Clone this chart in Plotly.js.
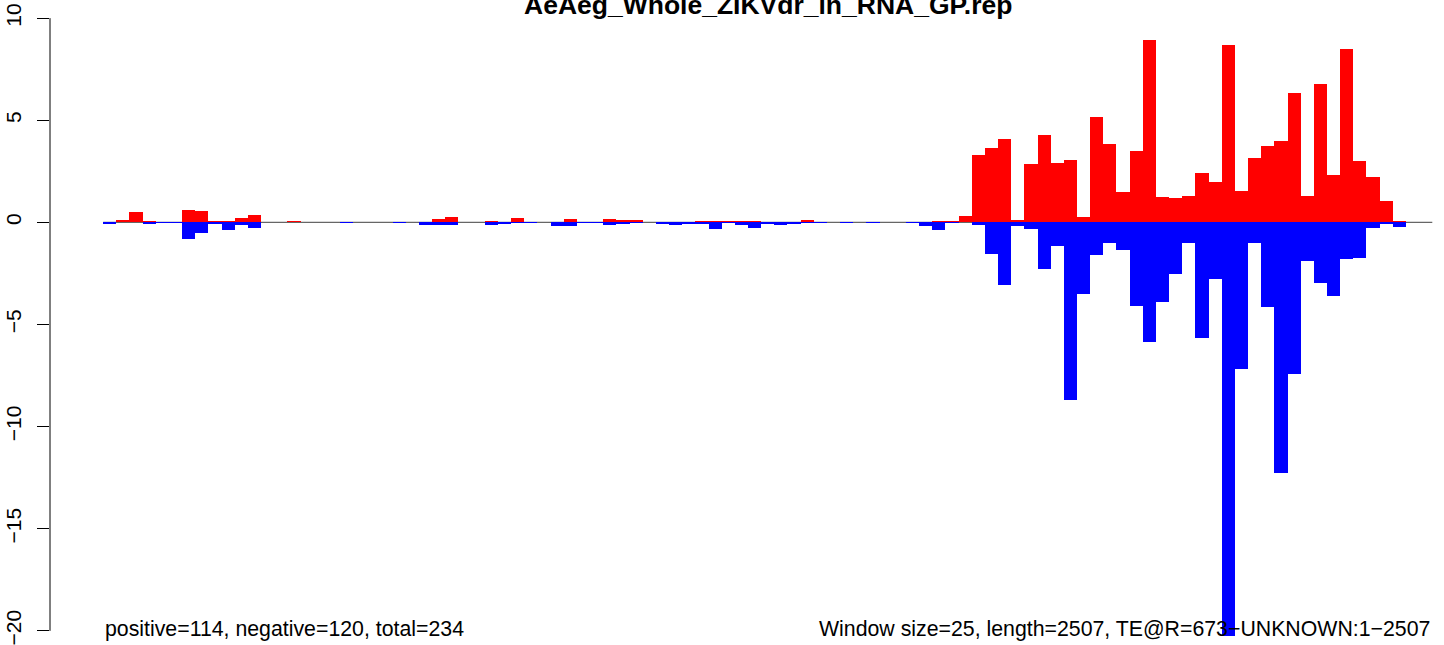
<!DOCTYPE html>
<html>
<head>
<meta charset="utf-8">
<script src="https://cdn.plot.ly/plotly-3.0.1.min.js"></script>
<style>html,body{margin:0;padding:0;background:#fff;}#chart{width:1444px;height:645px;}</style>
</head>
<body>
<div id="chart"></div>
<script>
// Window index (0..100), window size 25 over length 2507
const windowIndex = Array.from({length: 101}, (_, i) => i + 0.5);

const positiveValues = [
  0, 0.13, 0.52, 0.08, 0, 0, 0.60, 0.55, 0.08, 0.08,
  0.21, 0.36, 0.03, 0.03, 0.08, 0, 0.03, 0, 0, 0.03,
  0, 0, 0, 0, 0, 0.16, 0.26, 0, 0.03, 0.07,
  0, 0.21, 0, 0, 0, 0.16, 0, 0, 0.16, 0.11,
  0.11, 0.03, 0, 0, 0, 0.07, 0.07, 0.07, 0.07, 0.07,
  0, 0, 0, 0.11, 0, 0, 0, 0.03, 0, 0,
  0, 0, 0, 0.08, 0.08, 0.31, 3.30, 3.64, 4.08, 0.13,
  2.85, 4.27, 2.90, 3.05, 0.26, 5.15, 3.83, 1.50, 3.49, 8.92,
  1.24, 1.19, 1.29, 2.41, 1.97, 8.68, 1.53, 3.15, 3.74, 3.98,
  6.33, 1.29, 6.77, 2.32, 8.48, 3.00, 2.22, 1.04, 0.07, 0,
  0
];

const negativeValues = [
  -0.08, 0, 0, -0.08, -0.03, -0.03, -0.80, -0.52, -0.08, -0.36,
  -0.13, -0.28, 0, 0, 0, 0, 0, 0, -0.03, 0,
  0, 0, -0.03, 0, -0.13, -0.13, -0.13, 0, 0, -0.13,
  -0.07, -0.03, -0.03, 0, -0.18, -0.18, -0.03, -0.03, -0.13, -0.07,
  -0.03, 0, -0.07, -0.13, -0.07, -0.07, -0.33, -0.03, -0.13, -0.28,
  -0.07, -0.13, -0.07, -0.03, -0.03, 0, -0.03, 0, -0.03, 0,
  0, -0.03, -0.16, -0.36, -0.03, 0, -0.11, -1.55, -3.05, -0.18,
  -0.33, -2.28, -1.16, -8.70, -3.51, -1.60, -1.01, -1.35, -4.09, -5.86,
  -3.90, -2.53, -1.01, -5.64, -2.77, -20.23, -7.18, -1.01, -4.14, -12.27,
  -7.42, -1.89, -2.97, -3.61, -1.79, -1.75, -0.28, -0.10, -0.23, 0,
  0
];

const yTickValues = [-20, -15, -10, -5, 0, 5, 10];
const yTickLabels = ['\u221220', '\u221215', '\u221210', '\u22125', '0', '5', '10'];

const chartTitle = 'AeAeg_Whole_ZIKVdr_in_RNA_GP.rep';
const leftNote = 'positive=114, negative=120, total=234';
const rightNote = 'Window size=25, length=2507, TE@R=673\u2212UNKNOWN:1\u22122507';

const FONT = 'Liberation Sans, Arial, Helvetica, sans-serif';

const traces = [
  {type: 'bar', x: windowIndex, y: positiveValues, width: 1,
   marker: {color: '#FF0000', line: {width: 0}}, hoverinfo: 'y', showlegend: false},
  {type: 'bar', x: windowIndex, y: negativeValues, width: 1,
   marker: {color: '#0000FF', line: {width: 0}}, hoverinfo: 'y', showlegend: false}
];

const layout = {
  width: 1444, height: 645,
  margin: {l: 50, r: 0, t: 12, b: 7.7, pad: 0},
  paper_bgcolor: '#ffffff', plot_bgcolor: '#ffffff',
  barmode: 'relative', bargap: 0,
  showlegend: false,
  font: {family: FONT, color: '#000000', size: 21},
  xaxis: {range: [-4.04, 101.89], visible: false, fixedrange: true},
  yaxis: {
    range: [-20.3, 10.3],
    tickmode: 'array', tickvals: yTickValues, ticktext: yTickLabels,
    tickangle: -90, ticks: 'outside', ticklen: 12, tickwidth: 1, tickcolor: '#000000',
    ticklabelstandoff: 8, ticklabeloverflow: 'allow',
    tickfont: {family: FONT, size: 21, color: '#000000'},
    showline: false, showgrid: false, zeroline: false, fixedrange: true
  },
  shapes: [
    {type: 'line', xref: 'paper', yref: 'y', x0: 0, x1: 0, y0: -20, y1: 10,
     line: {color: '#000000', width: 1}},
    {type: 'line', xref: 'x', yref: 'y', x0: 0, x1: 101, y0: 0, y1: 0,
     line: {color: '#666666', width: 1.2}, layer: 'below'}
  ],
  annotations: [
    {text: '<b>' + chartTitle + '</b>', xref: 'x', yref: 'paper', x: 50.5, y: 1,
     xanchor: 'center', yanchor: 'bottom', yshift: -10.5, showarrow: false,
     font: {family: FONT, size: 26.5, color: '#000000'}},
    {text: leftNote, xref: 'x', yref: 'paper', x: 0, y: 0,
     xanchor: 'left', yanchor: 'bottom', yshift: -6, showarrow: false,
     font: {family: FONT, size: 21.3, color: '#000000'}},
    {text: rightNote, xref: 'x', yref: 'paper', x: 101, y: 0,
     xanchor: 'right', yanchor: 'bottom', yshift: -6, showarrow: false,
     font: {family: FONT, size: 21.3, color: '#000000'}}
  ]
};

Plotly.newPlot('chart', traces, layout, {displayModeBar: false, staticPlot: true});
</script>
</body>
</html>
